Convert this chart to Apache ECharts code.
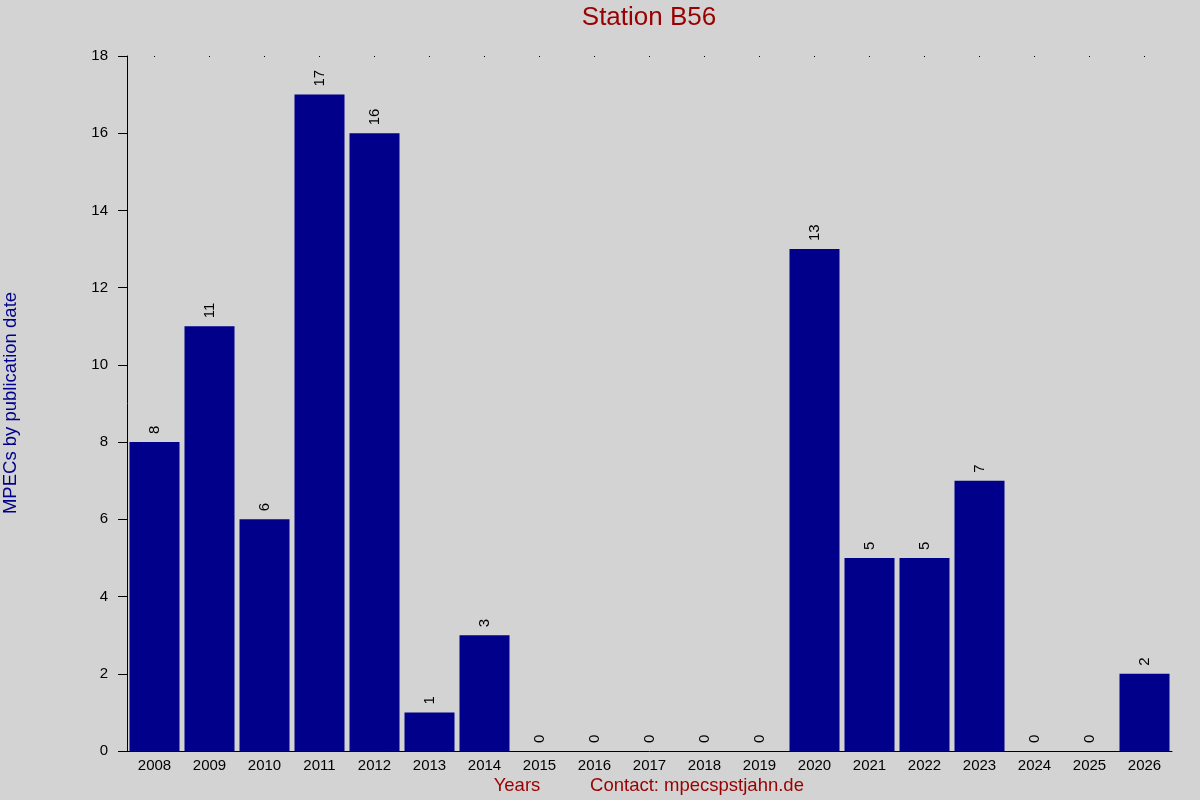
<!DOCTYPE html>
<html>
<head>
<meta charset="utf-8">
<script src="https://cdn.jsdelivr.net/npm/echarts@6/dist/echarts.min.js"></script>
<style>
  html, body { margin: 0; padding: 0; background: #d3d3d3; }
  #chart { width: 1200px; height: 800px; }
</style>
</head>
<body>
<div id="chart"></div>
<script>
// 年份与数据
var years = ['2008', '2009', '2010', '2011', '2012', '2013', '2014', '2015', '2016', '2017',
             '2018', '2019', '2020', '2021', '2022', '2023', '2024', '2025', '2026'];
var mpecs = [8, 11, 6, 17, 16, 1, 3, 0, 0, 0, 0, 0, 13, 5, 5, 7, 0, 0, 2];
var yTicks = [0, 2, 4, 6, 8, 10, 12, 14, 16, 18];

var chart = echarts.init(document.getElementById('chart'));
var font = 'Liberation Sans, Arial, sans-serif';

chart.setOption({
  backgroundColor: '#d3d3d3',
  animation: false,
  grid: { left: 127, right: 28, top: 56, bottom: 49 },
  xAxis: [
    {
      type: 'category',
      data: years,
      axisLine: { lineStyle: { color: '#000', width: 1 } },
      axisTick: { show: false },
      axisLabel: { color: '#000', fontSize: 15, fontFamily: font, margin: 7 }
    },
    {
      // 顶部小点
      type: 'category',
      data: years,
      position: 'top',
      axisLine: { show: false },
      axisTick: { show: true, alignWithLabel: true, inside: true, length: 1, lineStyle: { color: '#000' } },
      axisLabel: { show: false }
    }
  ],
  yAxis: {
    type: 'value',
    min: yTicks[0],
    max: yTicks[yTicks.length - 1],
    interval: 2,
    axisLine: { show: true, lineStyle: { color: '#000', width: 1 } },
    axisTick: { show: true, length: 9, lineStyle: { color: '#000' } },
    axisLabel: { color: '#000', fontSize: 15, fontFamily: font, margin: 19 },
    splitLine: { show: false }
  },
  series: [
    {
      type: 'bar',
      data: mpecs,
      barWidth: 50,
      itemStyle: { color: '#00008b' },
      label: {
        show: true,
        position: 'top',
        rotate: 90,
        align: 'left',
        verticalAlign: 'middle',
        distance: 8,
        color: '#000',
        fontSize: 15,
        fontFamily: font
      }
    }
  ],
  graphic: [
    {
      type: 'text',
      x: 649,
      y: 18,
      style: {
        text: 'Station B56',
        fill: '#990000',
        font: '26px ' + font,
        textAlign: 'center',
        textVerticalAlign: 'middle'
      }
    },
    {
      type: 'text',
      x: 11,
      y: 403,
      rotation: Math.PI / 2,
      style: {
        text: 'MPECs by publication date',
        fill: '#00008b',
        font: '18.5px ' + font,
        textAlign: 'center',
        textVerticalAlign: 'middle'
      }
    },
    {
      type: 'text',
      x: 517,
      y: 786,
      style: {
        text: 'Years',
        fill: '#990000',
        font: '18.5px ' + font,
        textAlign: 'center',
        textVerticalAlign: 'middle'
      }
    },
    {
      type: 'text',
      x: 697,
      y: 786,
      style: {
        text: 'Contact: mpecspstjahn.de',
        fill: '#990000',
        font: '18.5px ' + font,
        textAlign: 'center',
        textVerticalAlign: 'middle'
      }
    }
  ]
});
</script>
</body>
</html>
